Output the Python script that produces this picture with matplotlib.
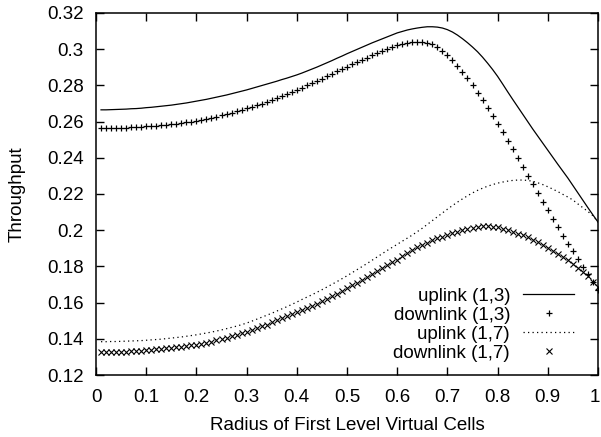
import numpy as np
import matplotlib
matplotlib.use("Agg")
from matplotlib import pyplot as plt
from matplotlib.transforms import ScaledTranslation

# radius of first level virtual cells (gnuplot samples, step 0.01)
radius = np.round(np.arange(1, 101) * 0.01, 2)

uplink_13 = [
    0.2665, 0.2665, 0.2666, 0.2667, 0.2668, 0.2669, 0.2671, 0.2672, 0.2674, 0.2677,
    0.2679, 0.2682, 0.2685, 0.2688, 0.2691, 0.2695, 0.2699, 0.2703, 0.2708, 0.2713,
    0.2718, 0.2723, 0.2729, 0.2735, 0.2741, 0.2747, 0.2754, 0.2761, 0.2768, 0.2775,
    0.2783, 0.2791, 0.2799, 0.2807, 0.2815, 0.2823, 0.2832, 0.2840, 0.2849, 0.2858,
    0.2868, 0.2879, 0.2890, 0.2901, 0.2913, 0.2925, 0.2937, 0.2950, 0.2962, 0.2975,
    0.2987, 0.2999, 0.3011, 0.3023, 0.3035, 0.3046, 0.3057, 0.3068, 0.3079, 0.3090,
    0.3098, 0.3106, 0.3112, 0.3117, 0.3121, 0.3124, 0.3124, 0.3122, 0.3117, 0.3108,
    0.3095, 0.3078, 0.3058, 0.3036, 0.3012, 0.2986, 0.2956, 0.2923, 0.2888, 0.2850,
    0.2808, 0.2765, 0.2723, 0.2682, 0.2641, 0.2600, 0.2559, 0.2520, 0.2481, 0.2442,
    0.2403, 0.2364, 0.2326, 0.2288, 0.2247, 0.2206, 0.2165, 0.2124, 0.2084, 0.2045,
]

downlink_13 = [
    0.2563, 0.2563, 0.2564, 0.2565, 0.2566, 0.2567, 0.2568, 0.2569, 0.2571, 0.2573,
    0.2575, 0.2577, 0.2579, 0.2582, 0.2585, 0.2588, 0.2592, 0.2596, 0.2600, 0.2605,
    0.2610, 0.2615, 0.2621, 0.2627, 0.2634, 0.2641, 0.2648, 0.2656, 0.2664, 0.2673,
    0.2682, 0.2691, 0.2700, 0.2710, 0.2720, 0.2731, 0.2742, 0.2753, 0.2764, 0.2775,
    0.2787, 0.2800, 0.2812, 0.2825, 0.2838, 0.2851, 0.2864, 0.2877, 0.2890, 0.2903,
    0.2916, 0.2929, 0.2941, 0.2954, 0.2966, 0.2978, 0.2990, 0.3001, 0.3012, 0.3022,
    0.3030, 0.3036, 0.3040, 0.3042, 0.3041, 0.3037, 0.3029, 0.3013, 0.2992, 0.2968,
    0.2940, 0.2909, 0.2876, 0.2839, 0.2800, 0.2760, 0.2720, 0.2677, 0.2633, 0.2587,
    0.2541, 0.2494, 0.2447, 0.2399, 0.2351, 0.2302, 0.2254, 0.2206, 0.2158, 0.2110,
    0.2062, 0.2015, 0.1968, 0.1926, 0.1885, 0.1839, 0.1796, 0.1756, 0.1714, 0.1672,
]

uplink_17 = [
    0.1384, 0.1384, 0.1385, 0.1385, 0.1386, 0.1387, 0.1388, 0.1389, 0.1390, 0.1392,
    0.1394, 0.1396, 0.1398, 0.1401, 0.1404, 0.1407, 0.1410, 0.1414, 0.1418, 0.1422,
    0.1427, 0.1432, 0.1437, 0.1443, 0.1449, 0.1456, 0.1463, 0.1470, 0.1478, 0.1487,
    0.1497, 0.1508, 0.1519, 0.1530, 0.1541, 0.1553, 0.1565, 0.1577, 0.1590, 0.1603,
    0.1617, 0.1630, 0.1643, 0.1657, 0.1671, 0.1686, 0.1701, 0.1716, 0.1732, 0.1748,
    0.1765, 0.1782, 0.1799, 0.1816, 0.1834, 0.1852, 0.1870, 0.1888, 0.1905, 0.1922,
    0.1939, 0.1956, 0.1973, 0.1992, 0.2011, 0.2032, 0.2053, 0.2074, 0.2095, 0.2116,
    0.2136, 0.2155, 0.2173, 0.2190, 0.2206, 0.2220, 0.2232, 0.2243, 0.2252, 0.2260,
    0.2266, 0.2271, 0.2275, 0.2277, 0.2277, 0.2275, 0.2270, 0.2262, 0.2252, 0.2240,
    0.2227, 0.2213, 0.2198, 0.2183, 0.2167, 0.2145, 0.2124, 0.2103, 0.2080, 0.2045,
]

downlink_17 = [
    0.1325, 0.1325, 0.1326, 0.1327, 0.1328, 0.1329, 0.1331, 0.1333, 0.1335, 0.1337,
    0.1339, 0.1341, 0.1344, 0.1347, 0.1350, 0.1353, 0.1356, 0.1360, 0.1364, 0.1367,
    0.1372, 0.1378, 0.1384, 0.1391, 0.1398, 0.1405, 0.1413, 0.1421, 0.1430, 0.1439,
    0.1448, 0.1458, 0.1468, 0.1479, 0.1491, 0.1502, 0.1513, 0.1524, 0.1535, 0.1546,
    0.1557, 0.1568, 0.1581, 0.1594, 0.1608, 0.1622, 0.1636, 0.1650, 0.1665, 0.1680,
    0.1695, 0.1710, 0.1726, 0.1742, 0.1758, 0.1774, 0.1790, 0.1806, 0.1822, 0.1838,
    0.1855, 0.1872, 0.1889, 0.1905, 0.1919, 0.1932, 0.1944, 0.1955, 0.1965, 0.1974,
    0.1983, 0.1991, 0.1999, 0.2006, 0.2012, 0.2017, 0.2021, 0.2022, 0.2020, 0.2015,
    0.2008, 0.2000, 0.1991, 0.1981, 0.1971, 0.1960, 0.1948, 0.1934, 0.1919, 0.1903,
    0.1887, 0.1870, 0.1853, 0.1835, 0.1812, 0.1789, 0.1767, 0.1746, 0.1716, 0.1686,
]

x_ticks = [0, 0.1, 0.2, 0.3, 0.4, 0.5, 0.6, 0.7, 0.8, 0.9, 1]
y_ticks = [0.12, 0.14, 0.16, 0.18, 0.2, 0.22, 0.24, 0.26, 0.28, 0.3, 0.32]

plt.rcParams['font.family'] = ['Liberation Sans', 'DejaVu Sans']
plt.rcParams['font.size'] = 13.5

fig = plt.figure(figsize=(6.01, 4.37), dpi=100)
ax = fig.add_axes([96 / 601, 1 - 375 / 437, 502 / 601, 362 / 437])

ax.plot(radius, uplink_13, color='black', lw=0.9, label='uplink (1,3)')
ax.plot(radius, downlink_13, color='black', ls='none', marker='+',
        ms=4.5, mew=0.9, label='downlink (1,3)')
ax.plot(radius, uplink_17, color='black', lw=0.9, ls=(0, (1, 2.6)),
        label='uplink (1,7)')
ax.plot(radius, downlink_17, color='black', ls='none', marker='x',
        ms=4, mew=0.8, label='downlink (1,7)')

ax.set_xlim(0, 1)
ax.set_ylim(0.12, 0.32)
ax.set_xticks(x_ticks)
ax.set_yticks(y_ticks)
ax.set_xticklabels(['%g' % v for v in x_ticks])
ax.set_yticklabels(['%g' % v for v in y_ticks])
ax.tick_params(direction='in', length=6, width=1, top=True, right=True)
ax.tick_params(axis='x', pad=10)
ax.tick_params(axis='y', pad=9)
for s in ax.spines.values():
    s.set_linewidth(1.1)

# keep the last x label inside the canvas, as gnuplot does
last = ax.get_xticklabels()[-1]
last.set_transform(last.get_transform() + ScaledTranslation(-3 / 100, 0, fig.dpi_scale_trans))

ax.set_xlabel('Radius of First Level Virtual Cells', labelpad=8)
ax.set_ylabel('Throughput', labelpad=15)

ax.legend(loc='lower right', frameon=False, markerfirst=False,
          handlelength=2.7, handletextpad=0.7, labelspacing=0.1,
          borderaxespad=0.3, bbox_to_anchor=(0.978, 0.0))

fig.savefig('out.png', dpi=100)
